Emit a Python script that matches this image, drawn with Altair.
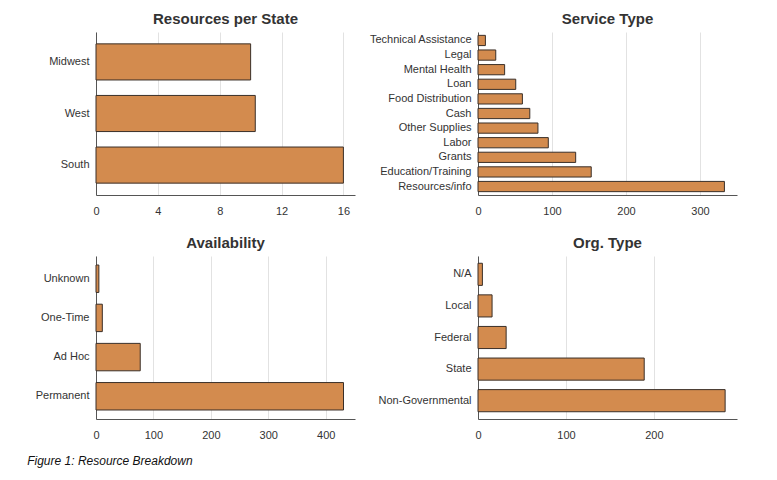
import altair as alt
import pandas as pd

region_labels = ["Midwest", "West", "South"]
region_values = [10, 10.3, 16]

service_labels = ["Technical Assistance", "Legal", "Mental Health", "Loan",
                  "Food Distribution", "Cash", "Other Supplies", "Labor",
                  "Grants", "Education/Training", "Resources/info"]
service_values = [10, 24, 36, 51, 60, 70, 81, 95, 132, 153, 333]

availability_labels = ["Unknown", "One-Time", "Ad Hoc", "Permanent"]
availability_values = [5, 11, 77, 431]

org_labels = ["N/A", "Local", "Federal", "State", "Non-Governmental"]
org_values = [5, 16, 32, 189, 281]

FONT = "Liberation Sans"
BAR_FILL = "#D38B4E"
BAR_STROKE = "#3a2f28"


def panel(title, labels, values, xmax, ticks):
    df = pd.DataFrame({"category": labels, "count": values})
    return alt.Chart(
        df,
        title=alt.Title(title, fontSize=15, font=FONT, fontWeight="bold",
                        color="#333333", offset=5),
    ).mark_bar(fill=BAR_FILL, stroke=BAR_STROKE, strokeWidth=1).encode(
        x=alt.X("count:Q",
                scale=alt.Scale(domain=[0, xmax], nice=False, zero=True),
                axis=alt.Axis(values=ticks, title=None, grid=True,
                              gridColor="#e2e2e2", ticks=False,
                              domainColor="#555555", labelPadding=10,
                              labelFlush=False,
                              labelFont=FONT, labelFontSize=11,
                              labelColor="#333333", format="d")),
        y=alt.Y("category:N", sort=labels,
                scale=alt.Scale(paddingInner=0.3, paddingOuter=0.23),
                axis=alt.Axis(title=None, grid=False, ticks=False,
                              domainColor="#555555", labelPadding=7,
                              labelFont=FONT, labelFontSize=11,
                              labelColor="#333333", labelLimit=200)),
    ).properties(width=259, height=163)


p1 = panel("Resources per State", region_labels, region_values, 16.75, [0, 4, 8, 12, 16])
p2 = panel("Service Type", service_labels, service_values, 350, [0, 100, 200, 300])
p3 = panel("Availability", availability_labels, availability_values, 451, [0, 100, 200, 300, 400])
p4 = panel("Org. Type", org_labels, org_values, 294.5, [0, 100, 200])

chart = alt.concat(p1, p2, p3, p4, columns=2,
                   spacing=alt.RowColnumber(row=20, column=13)).properties(
    title=alt.Title("Figure 1: Resource Breakdown", orient="bottom", anchor="start",
                    fontSize=12, font=FONT, fontStyle="italic", fontWeight="normal",
                    color="#111111", offset=16, dx=-8),
    padding={"left": 19, "top": 4, "right": 5, "bottom": 5},
).configure_view(stroke=None)

chart.save("out.html", embed_options={"renderer": "svg", "actions": False})
